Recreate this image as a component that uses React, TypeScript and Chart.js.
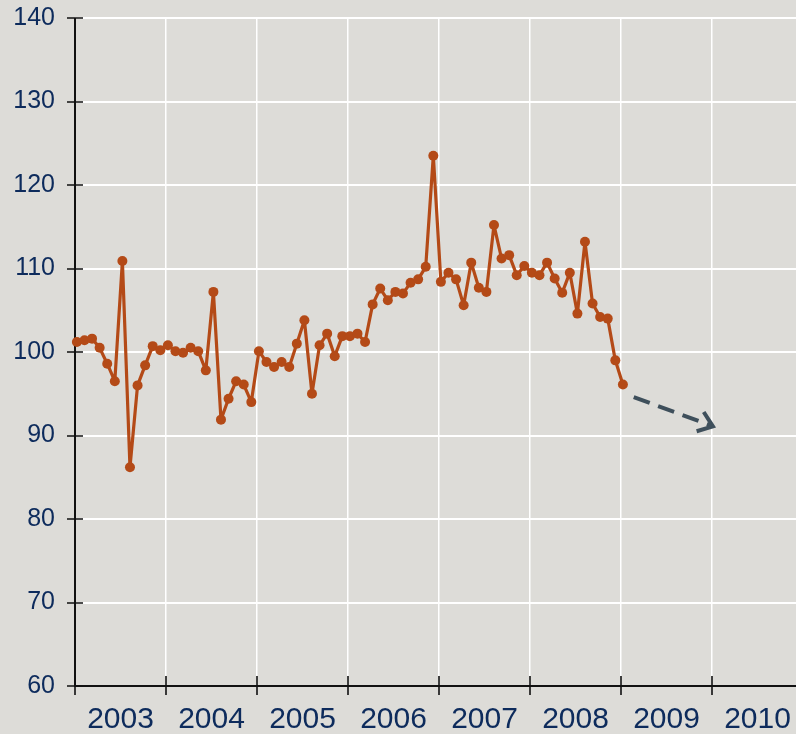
import React, { useEffect, useRef } from "react";
import { Chart, registerables } from "chart.js";

Chart.register(...registerables);

const startYear = 2003;
const yearLabels = ["2003", "2004", "2005", "2006", "2007", "2008", "2009", "2010"];
const yTicks = [60, 70, 80, 90, 100, 110, 120, 130, 140];

const values2003 = [101.2, 101.4, 101.6, 100.5, 98.6, 96.5, 110.9, 86.2, 96.0, 98.4, 100.7, 100.2];
const values2004 = [100.8, 100.1, 99.9, 100.5, 100.1, 97.8, 107.2, 91.9, 94.4, 96.5, 96.1, 94.0];
const values2005 = [100.1, 98.8, 98.2, 98.8, 98.2, 101.0, 103.8, 95.0, 100.8, 102.2, 99.5, 101.9];
const values2006 = [101.9, 102.2, 101.2, 105.7, 107.6, 106.2, 107.2, 107.0, 108.3, 108.7, 110.2, 123.5];
const values2007 = [108.4, 109.5, 108.7, 105.6, 110.7, 107.7, 107.2, 115.2, 111.2, 111.6, 109.2, 110.3];
const values2008 = [109.5, 109.2, 110.7, 108.8, 107.1, 109.5, 104.6, 113.2, 105.8, 104.2, 104.0, 99.0];
const values2009 = [96.1];

const arrowX = [2009.14, 2010.01];
const arrowY = [94.6, 91.1];

const BG = "#dddcd8";
const LINE = "#b44a17";
const TEXT = "#0d2b5c";
const ARROW = "#3e4f5b";

const axisPlugin = {
  id: "customAxes",
  beforeDraw(chart: any) {
    const { ctx, width, height } = chart;
    ctx.save();
    ctx.fillStyle = BG;
    ctx.fillRect(0, 0, width, height);
    ctx.restore();
  },
  beforeDatasetsDraw(chart: any) {
    const { ctx, chartArea: a, scales } = chart;
    const x = scales.x;
    const y = scales.y;
    ctx.save();
    ctx.strokeStyle = "#111111";
    ctx.lineWidth = 2;
    ctx.beginPath();
    ctx.moveTo(a.left, a.top);
    ctx.lineTo(a.left, a.bottom);
    ctx.lineTo(a.right, a.bottom);
    ctx.stroke();
    ctx.lineWidth = 1.6;
    ctx.beginPath();
    yTicks.forEach((v) => {
      const py = Math.round(y.getPixelForValue(v));
      ctx.moveTo(a.left - 8, py);
      ctx.lineTo(a.left + 8, py);
    });
    yearLabels.forEach((lab) => {
      const px = Math.round(x.getPixelForValue(Number(lab)));
      ctx.moveTo(px, a.bottom - 10);
      ctx.lineTo(px, a.bottom + 9);
    });
    ctx.stroke();
    ctx.restore();
  },
  afterDatasetsDraw(chart: any) {
    const { ctx } = chart;
    const meta = chart.getDatasetMeta(1);
    const pts = meta.data;
    if (!pts || pts.length < 2) return;
    const p0 = pts[pts.length - 2];
    const p1 = pts[pts.length - 1];
    const ang = Math.atan2(p1.y - p0.y, p1.x - p0.x);
    const len = 17;
    const spread = (37 * Math.PI) / 180;
    ctx.save();
    ctx.strokeStyle = ARROW;
    ctx.lineWidth = 4;
    ctx.lineCap = "butt";
    ctx.lineJoin = "miter";
    ctx.beginPath();
    ctx.moveTo(p1.x - len * Math.cos(ang - spread), p1.y - len * Math.sin(ang - spread));
    ctx.lineTo(p1.x, p1.y);
    ctx.lineTo(p1.x - len * Math.cos(ang + spread), p1.y - len * Math.sin(ang + spread));
    ctx.stroke();
    ctx.restore();
  },
};

export default function App() {
  const ref = useRef<HTMLCanvasElement | null>(null);
  useEffect(() => {
    document.body.style.margin = "0";
    document.body.style.background = BG;
    const values = [
      ...values2003,
      ...values2004,
      ...values2005,
      ...values2006,
      ...values2007,
      ...values2008,
      ...values2009,
    ];
    const series = values.map((v, i) => ({ x: startYear + (i + 0.25) / 12, y: v }));
    const arrow = arrowX.map((xv, i) => ({ x: xv, y: arrowY[i] }));
    const firstYear = Number(yearLabels[0]);
    const lastYear = Number(yearLabels[yearLabels.length - 1]);
    const chart = new Chart(ref.current as HTMLCanvasElement, {
      type: "line",
      data: {
        datasets: [
          {
            data: series,
            borderColor: LINE,
            backgroundColor: LINE,
            borderWidth: 3.2,
            borderJoinStyle: "round",
            pointRadius: 5,
            pointBorderWidth: 0,
            pointBackgroundColor: LINE,
            tension: 0,
            clip: false,
          } as any,
          {
            data: arrow,
            borderColor: ARROW,
            borderWidth: 4,
            borderDash: [17, 9],
            pointRadius: 0,
            tension: 0,
            clip: false,
          } as any,
        ],
      },
      options: {
        animation: false,
        responsive: false,
        events: [],
        layout: { autoPadding: false, padding: { top: 18, right: 0, left: 0, bottom: 0 } },
        plugins: {
          legend: { display: false },
          tooltip: { enabled: false },
          title: { display: false },
        },
        scales: {
          x: {
            type: "linear",
            min: firstYear,
            max: firstYear + (796 - 75) / 91,
            afterBuildTicks: (scale: any) => {
              const t: any[] = [];
              for (let yv = firstYear; yv <= lastYear; yv++) {
                t.push({ value: yv });
                t.push({ value: yv + 0.5 });
              }
              scale.ticks = t;
            },
            afterFit: (scale: any) => {
              scale.height = 48;
              scale.paddingLeft = 0;
              scale.paddingRight = 0;
            },
            border: { display: false },
            grid: {
              color: (c: any) =>
                c.tick && Number.isInteger(c.tick.value) ? "#ffffff" : "rgba(0,0,0,0)",
              lineWidth: 1.5,
              drawTicks: false,
            },
            ticks: {
              autoSkip: false,
              maxRotation: 0,
              padding: 16,
              color: TEXT,
              font: { family: "'Liberation Sans', Arial, sans-serif", size: 30 },
              callback: (v: any) => {
                const n = Number(v);
                return Number.isInteger(n) ? "" : String(Math.floor(n));
              },
            },
          },
          y: {
            type: "linear",
            min: yTicks[0],
            max: yTicks[yTicks.length - 1],
            afterBuildTicks: (scale: any) => {
              scale.ticks = yTicks.map((v) => ({ value: v }));
            },
            afterFit: (scale: any) => {
              scale.width = 75;
              scale.paddingTop = 0;
              scale.paddingBottom = 0;
            },
            border: { display: false },
            grid: { color: "#ffffff", lineWidth: 2, drawTicks: false },
            ticks: {
              padding: 20,
              color: TEXT,
              font: { family: "'Liberation Sans', Arial, sans-serif", size: 25 },
            },
          },
        },
      },
      plugins: [axisPlugin],
    });
    return () => chart.destroy();
  }, []);
  return <canvas ref={ref} width={796} height={734} style={{ display: "block" }} />;
}
